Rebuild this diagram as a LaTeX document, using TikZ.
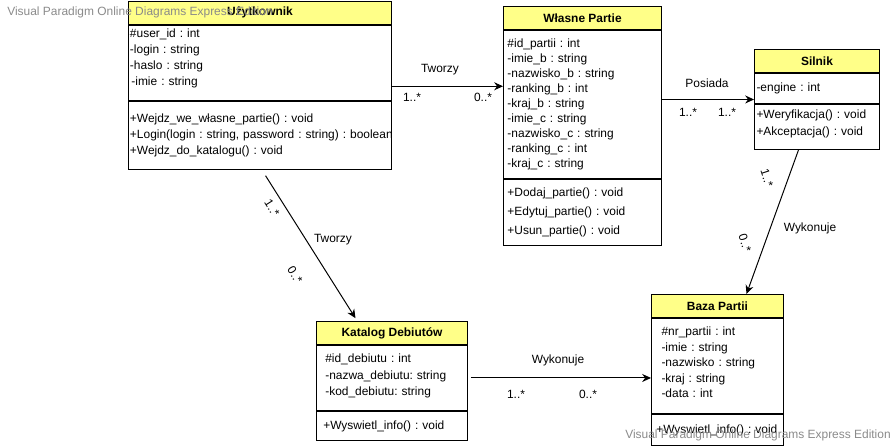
\documentclass[tikz,border=0pt]{standalone}
\usepackage{fontspec}
\setmainfont{Liberation Sans}
\usetikzlibrary{arrows.meta,positioning}
\definecolor{clsyel}{HTML}{FFFF88}
\definecolor{wmgray}{HTML}{8A8A8A}
\frenchspacing

\begin{document}
\begin{tikzpicture}[
    hdr/.style={rectangle,draw,fill=clsyel,anchor=north west,minimum height=0.575cm,inner sep=0pt,line width=0.7pt,font=\fontsize{8.5}{10}\selectfont\bfseries},
    box/.style={rectangle,draw,fill=white,anchor=north west,align=left,inner ysep=0pt,line width=0.7pt,font=\fontsize{8.5}{11}\selectfont},
    sep/.style={line width=1.4pt},
    arr/.style={-{Stealth[length=2.2mm,width=2mm]},line width=0.7pt},
    lbl/.style={font=\fontsize{8.5}{10}\selectfont,inner sep=0pt},
    wm/.style={font=\fontsize{8.5}{10}\selectfont,text=wmgray,anchor=west,inner sep=0pt},
]
\useasboundingbox (0,0) rectangle (22.4,-11.15);

% Class: Uzytkownik
\node[hdr,minimum width=6.575cm] (uzH) at (3.2,-0.02) {Użytkownik};
\node[box,text width=6.5cm,inner xsep=0.0375cm,minimum height=1.875cm,font=\fontsize{8.5}{11.2}\selectfont] (uzA) at (uzH.south west) {\#user\_id : int\\-login : string\\-haslo : string\\\hspace{1pt}-imie : string\rule[-8pt]{0pt}{1pt}};
\node[box,text width=6.5cm,inner xsep=0.0375cm,minimum height=1.7cm,font=\fontsize{8.5}{11.4}\selectfont] (uzM) at (uzA.south west) {+Wejdz\_we\_własne\_partie() : void\\\mbox{+Login(login : string, password : string) : boolean}\\+Wejdz\_do\_katalogu() : void};
\draw[sep] (uzM.north west) -- (uzM.north east);

% Class: Wlasne Partie
\node[hdr,minimum width=3.95cm] (wpH) at (12.575,-0.15) {Własne Partie};
\node[box,text width=3.75cm,inner xsep=0.1cm,minimum height=3.7cm,font=\fontsize{8.5}{10.7}\selectfont] (wpA) at (wpH.south west) {\#id\_partii : int\\-imie\_b : string\\-nazwisko\_b : string\\-ranking\_b : int\\-kraj\_b : string\\-imie\_c : string\\-nazwisko\_c : string\\-ranking\_c : int\\-kraj\_c : string};
\node[box,text width=3.75cm,inner xsep=0.1cm,minimum height=1.65cm,font=\fontsize{8.5}{13.2}\selectfont] (wpM) at (wpA.south west) {+Dodaj\_partie() : void\\+Edytuj\_partie() : void\\+Usun\_partie() : void};
\draw[sep] (wpM.north west) -- (wpM.north east);

% Class: Silnik
\node[hdr,minimum width=3.125cm] (snH) at (18.85,-1.225) {Silnik};
\node[box,text width=3.025cm,inner xsep=0.05cm,minimum height=0.75cm] (snA) at (snH.south west) {-engine : int};
\node[box,text width=3.025cm,inner xsep=0.05cm,minimum height=1.125cm,font=\fontsize{8.5}{12}\selectfont] (snM) at (snA.south west) {+Weryfikacja() : void\\+Akceptacja() : void\rule[-6pt]{0pt}{1pt}};
\draw[sep] (snM.north west) -- (snM.north east);

% Class: Katalog Debiutow
\node[hdr,minimum width=3.775cm] (kdH) at (7.9,-8.025) {Katalog Debiutów};
\node[box,text width=3.335cm,inner xsep=0.22cm,minimum height=1.625cm,font=\fontsize{8.5}{11.5}\selectfont] (kdA) at (kdH.south west) {\#id\_debiutu : int\\-nazwa\_debiutu: string\\-kod\_debiutu: string\rule[-4.5pt]{0pt}{1pt}};
\node[box,text width=3.435cm,inner xsep=0.17cm,minimum height=0.725cm] (kdM) at (kdA.south west) {+Wyswietl\_info() : void};
\draw[sep] (kdM.north west) -- (kdM.north east);

% Class: Baza Partii
\node[hdr,minimum width=3.3cm] (bzH) at (16.275,-7.35) {Baza Partii};
\node[box,text width=2.8cm,inner xsep=0.25cm,minimum height=2.375cm] (bzA) at (bzH.south west) {\#nr\_partii : int\\-imie : string\\-nazwisko : string\\-kraj : string\\-data : int\rule[-5pt]{0pt}{1pt}};
\node[box,text width=3.06cm,inner xsep=0.12cm,minimum height=0.775cm] (bzM) at (bzA.south west) {+Wyswietl\_info() : void};
\draw[sep] (bzM.north west) -- (bzM.north east);

% Associations
\coordinate (t1) at ([yshift=-0.5875cm]uzA.east);
\draw[arr] (t1) -- (t1 -| wpA.west);
\coordinate (p1) at ([yshift=0.125cm]wpA.east);
\draw[arr] (p1) -- (p1 -| snA.west);
\draw[arr] ([xshift=0.14cm,yshift=-0.15cm]uzM.south) -- ([xshift=-0.9125cm,yshift=0.07cm]kdH.north);
\draw[arr] ([xshift=-0.4625cm]snM.south) -- ([xshift=0.725cm]bzH.north);
\coordinate (w1) at ([xshift=0.075cm]kdA.east);
\draw[arr] (w1) -- (w1 -| bzA.west);

% Labels
\node[lbl] (l1) at (11.0,-1.75) {Tworzy};
\node[lbl] (m1a) at (10.3,-2.425) {1..*};
\node[lbl] (m1b) at (12.075,-2.425) {0..*};
\node[lbl] (l2) at (17.675,-2.075) {Posiada};
\node[lbl] (m2a) at (17.2,-2.8) {1..*};
\node[lbl] (m2b) at (18.175,-2.8) {1..*};
\node[lbl] (l3) at (8.325,-6.0) {Tworzy};
\node[lbl,rotate=-58] (m3a) at (6.8,-5.2) {1..*};
\node[lbl,rotate=-58] (m3b) at (7.375,-6.875) {0..*};
\node[lbl] (l4) at (20.25,-5.7) {Wykonuje};
\node[lbl,rotate=-72] (m4a) at (19.175,-4.45) {1..*};
\node[lbl,rotate=-72] (m4b) at (18.625,-6.075) {0..*};
\node[lbl] (l5) at (13.95,-9.0) {Wykonuje};
\node[lbl] (m5a) at (12.9,-9.85) {1..*};
\node[lbl] (m5b) at (14.7,-9.85) {0..*};

% Watermarks
\node[wm] (wm1) at (0.175,-0.3) {Visual Paradigm Online Diagrams Express Edition};
\node[wm] (wm2) at (15.625,-10.875) {Visual Paradigm Online Diagrams Express Edition};
\end{tikzpicture}
\end{document}
